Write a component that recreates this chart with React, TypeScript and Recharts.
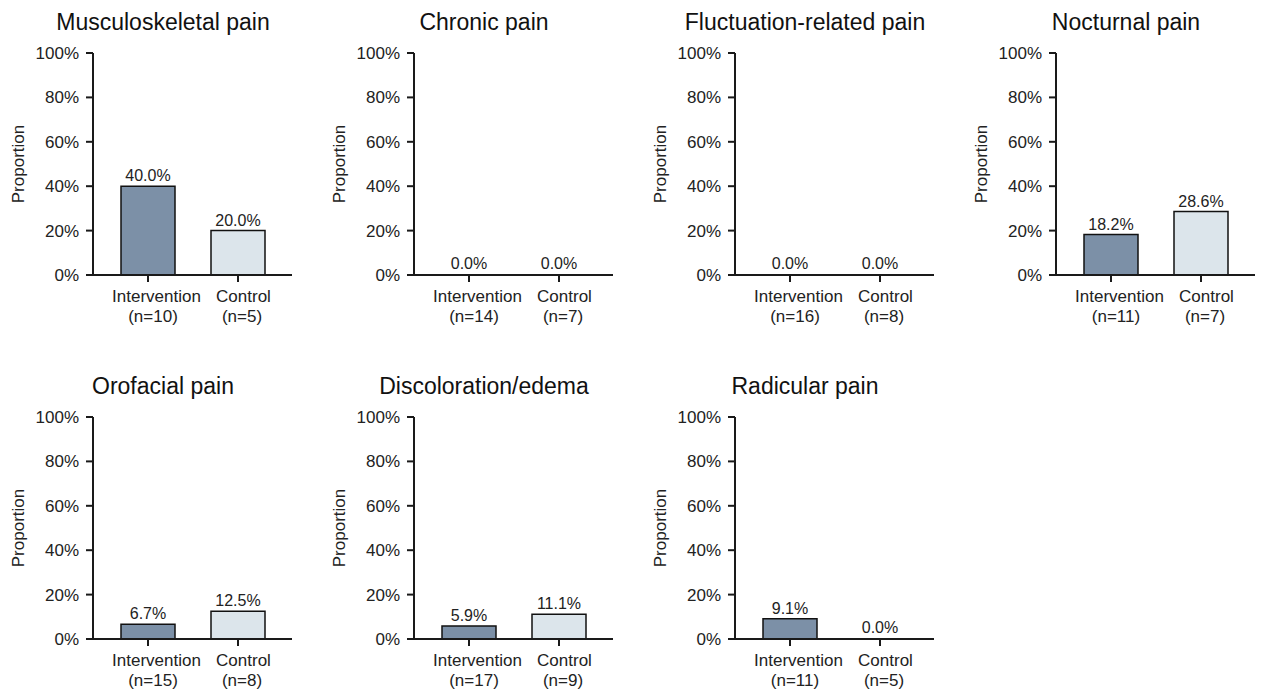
import React from 'react';
import { BarChart, Bar, XAxis, YAxis, Cell, LabelList, Label } from 'recharts';

const panelTitles = [
  'Musculoskeletal pain',
  'Chronic pain',
  'Fluctuation-related pain',
  'Nocturnal pain',
  'Orofacial pain',
  'Discoloration/edema',
  'Radicular pain',
];
const groupLabels = ['Intervention', 'Control'];
const interventionPct = [40.0, 0.0, 0.0, 18.2, 6.7, 5.9, 9.1];
const controlPct = [20.0, 0.0, 0.0, 28.6, 12.5, 11.1, 0.0];
const interventionN = [10, 14, 16, 11, 15, 17, 11];
const controlN = [5, 7, 8, 7, 8, 9, 5];
const yTicks = [0, 20, 40, 60, 80, 100];

const FONT = 'Arial, "Liberation Sans", Helvetica, sans-serif';
const TEXT = '#222';
const AXIS = '#1a1a1a';
const COLORS = ['#7C90A7', '#DCE5EB'];

const PANEL_W = 320;
const PANEL_H = 345;

// the labels sit a little right of their tick in the original
const NAME_SHIFT = [8.5, 5.5];
const N_SHIFT = [5, 4];

const GroupTick = (props: any) => {
  const { x, y, payload, index } = props;
  const [name, n] = String(payload.value).split('|');
  const i = index ?? 0;
  return (
    <text x={x} y={y} textAnchor="middle" fill={TEXT} fontSize={17} fontFamily={FONT}>
      <tspan x={x + NAME_SHIFT[i]} dy={15.5}>{name}</tspan>
      <tspan x={x + N_SHIFT[i]} dy={20}>{n}</tspan>
    </text>
  );
};

const YTitle = (props: any) => {
  const { viewBox } = props;
  const cx = viewBox.x + 18;
  const cy = viewBox.y + viewBox.height / 2;
  return (
    <text
      x={cx}
      y={cy}
      transform={`rotate(-90, ${cx}, ${cy})`}
      textAnchor="middle"
      dominantBaseline="central"
      fill={TEXT}
      fontSize={17}
      fontFamily={FONT}
    >
      Proportion
    </text>
  );
};

const Panel: React.FC<{ index: number }> = ({ index }) => {
  const data = [
    { group: `${groupLabels[0]}|(n=${interventionN[index]})`, value: interventionPct[index] },
    { group: `${groupLabels[1]}|(n=${controlN[index]})`, value: controlPct[index] },
  ];
  const col = index % 4;
  const row = Math.floor(index / 4);
  const left = col * 321;
  const top = row * 364;

  return (
    <div style={{ position: 'absolute', left, top, width: PANEL_W, height: PANEL_H }}>
      <div
        style={{
          position: 'absolute',
          left: 0,
          top: 7,
          width: 326,
          textAlign: 'center',
          fontFamily: FONT,
          fontSize: 23,
          lineHeight: '30px',
          color: '#111',
        }}
      >
        {panelTitles[index]}
      </div>
      <BarChart
        width={PANEL_W}
        height={PANEL_H}
        data={data}
        margin={{ top: 53, right: 28, bottom: 20, left: 0 }}
        barCategoryGap="20%"
      >
        <XAxis
          dataKey="group"
          padding={{ left: 10, right: 9 }}
          axisLine={{ stroke: AXIS, strokeWidth: 2 }}
          tickLine={{ stroke: AXIS, strokeWidth: 2 }}
          tickSize={7}
          tickMargin={4}
          height={50}
          interval={0}
          tick={<GroupTick />}
        />
        <YAxis
          domain={[0, 100]}
          ticks={yTicks}
          tickFormatter={(v: number) => `${v}%`}
          width={93}
          axisLine={{ stroke: AXIS, strokeWidth: 2 }}
          tickLine={{ stroke: AXIS, strokeWidth: 2 }}
          tickSize={7}
          tickMargin={7}
          tick={{ fill: TEXT, fontSize: 17, fontFamily: FONT }}
        >
          <Label content={<YTitle />} />
        </YAxis>
        <Bar
          dataKey="value"
          strokeWidth={1.5}
          minPointSize={1}
          isAnimationActive={false}
        >
          {data.map((entry, i) => (
            <Cell
              key={`cell-${i}`}
              fill={COLORS[i]}
              stroke={entry.value > 0 ? '#111' : 'none'}
            />
          ))}
          <LabelList
            dataKey="value"
            position="top"
            offset={5}
            formatter={(v: any) => `${Number(v).toFixed(1)}%`}
            style={{ fill: TEXT, fontSize: 16, fontFamily: FONT }}
          />
        </Bar>
      </BarChart>
    </div>
  );
};

export default function App() {
  return (
    <div
      style={{
        position: 'absolute',
        left: 0,
        top: 0,
        width: 1265,
        height: 690,
        overflow: 'hidden',
        background: '#fff',
      }}
    >
      {panelTitles.map((_, i) => (
        <Panel key={i} index={i} />
      ))}
    </div>
  );
}
